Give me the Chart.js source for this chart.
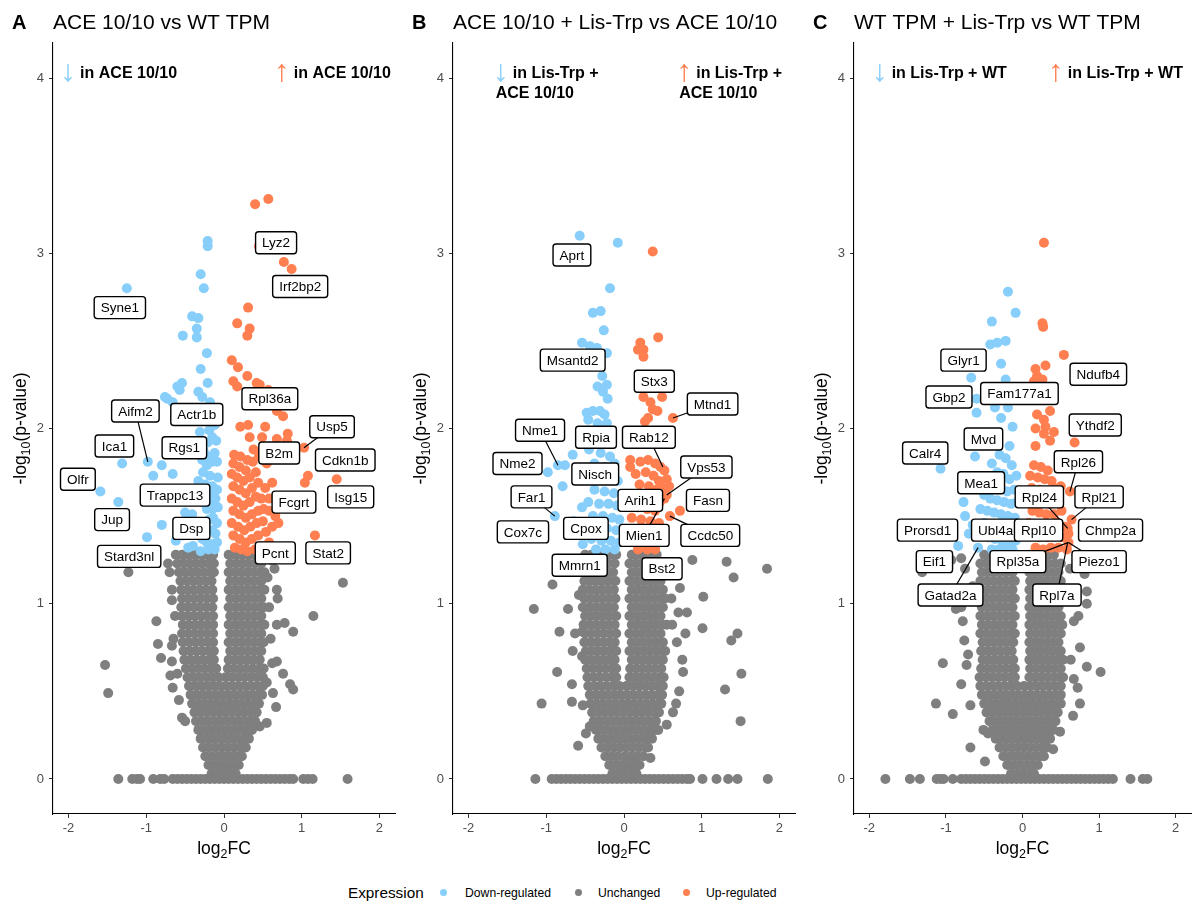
<!DOCTYPE html>
<html>
<head>
<meta charset="utf-8">
<title>Volcano plots</title>
<script src="https://cdn.jsdelivr.net/npm/chart.js@4.4.0/dist/chart.umd.min.js"></script>
<style>
  body { margin: 0; background: #fff; width: 1195px; height: 904px; overflow: hidden; position: relative;
         font-family: "Liberation Sans", Arial, sans-serif; }
  .panel { position: absolute; top: 0; height: 872px; }
  .leg { position: absolute; top: 883px; line-height: 20px; white-space: nowrap; color: #000; }
  .dot { position: absolute; top: 889px; width: 7px; height: 7px; border-radius: 50%; }
</style>
</head>
<body>
<div class="panel" style="left:0;width:400px"><canvas id="chartA"></canvas></div>
<div class="panel" style="left:400px;width:400px"><canvas id="chartB"></canvas></div>
<div class="panel" style="left:801px;width:395px"><canvas id="chartC"></canvas></div>

<span class="leg" style="left:348px;font-size:15.3px">Expression</span>
<div class="dot" style="left:440px;background:#87CEFA"></div>
<span class="leg" style="left:465px;font-size:12.2px">Down-regulated</span>
<div class="dot" style="left:575px;background:#7F7F7F"></div>
<span class="leg" style="left:598px;font-size:12.2px">Unchanged</span>
<div class="dot" style="left:683px;background:#FF7F50"></div>
<span class="leg" style="left:706px;font-size:12.2px">Up-regulated</span>

<script>
const COL_DOWN = "#87CEFA";
const COL_GREY = "#7F7F7F";
const COL_UP = "#FF7F50";
const FONT = '"Liberation Sans", Arial, sans-serif';

const xTicks = [-2, -1, 0, 1, 2];
const yTicks = [0, 1, 2, 3, 4];

// ---------- panel A : ACE 10/10 vs WT TPM ----------
const downA = [[-1.25,2.80],[-0.21,3.07],[-0.21,3.04],[-0.30,2.88],[-0.26,2.80],[-0.41,2.64],[-0.33,2.63],[-0.53,2.53],
  [-0.35,2.57],[-0.35,2.52],[-0.22,2.43],[-0.30,2.34],[-0.21,2.26],[-0.54,2.26],[-0.60,2.24],[-0.76,2.18],[-0.66,2.15],
  [-0.73,2.17],[-0.57,2.22],[-0.33,2.21],[-0.28,2.18],[-0.18,2.15],[-0.22,2.11],[-0.15,2.07],[-0.31,1.98],[-0.15,1.95],
  [-0.21,1.92],[-0.40,1.90],[-0.98,1.81],[-1.31,1.80],[-0.80,1.79],[-0.91,1.73],[-0.66,1.74],[-0.28,1.82],[-0.22,1.79],
  [-0.15,1.81],[-0.09,1.81],[-0.27,1.75],[-0.18,1.73],[-0.15,1.67],[-0.09,1.65],[-0.15,1.59],[-0.22,1.54],[-0.15,1.54],
  [-0.50,1.52],[-0.41,1.51],[-0.14,1.49],[-0.09,1.46],[-0.15,1.42],[-0.80,1.45],[-0.99,1.38],[-1.59,1.64],[-1.36,1.58],
  [-0.28,1.37],[-0.22,1.35],[-0.15,1.34],[-0.09,1.35],[-0.40,1.33],[-0.46,1.32],[-0.25,2.05],[-0.12,2.02],[-0.19,1.99],
  [-0.10,1.93],[-0.26,1.87],[-0.12,1.86],[-0.20,1.84],[-0.33,1.70],[-0.24,1.68],[-0.08,1.72],[-0.20,1.63],[-0.11,1.60],
  [-0.27,1.58],[-0.08,1.55],[-0.19,1.48],[-0.25,1.45],[-0.35,1.41],[-0.11,1.40],[-0.30,1.30],[-0.20,1.31],[-0.12,1.31],
  [-0.55,1.40],[-0.62,1.36],[-0.53,1.39]];
const upA = [[0.40,3.28],[0.57,3.31],[0.45,3.04],[0.77,2.95],[0.87,2.91],[0.31,2.69],[0.17,2.60],[0.33,2.57],[0.30,2.53],
  [0.10,2.39],[0.18,2.35],[0.30,2.30],[0.12,2.27],[0.17,2.24],[0.42,2.26],[0.46,2.25],[0.57,2.22],[0.63,2.18],[0.76,2.07],
  [0.68,2.10],[0.82,1.97],[0.21,2.01],[0.31,2.02],[0.53,2.01],[0.33,1.95],[0.49,1.95],[0.68,1.94],[0.81,1.93],[0.13,1.85],
  [0.21,1.84],[0.30,1.82],[0.37,1.81],[1.03,1.89],[1.08,1.73],[1.04,1.69],[1.45,1.71],[1.17,1.39],[0.62,1.69],[0.53,1.66],
  [0.48,1.60],[0.58,1.60],[0.51,1.54],[0.58,1.53],[0.12,1.80],[0.20,1.78],[0.28,1.76],[0.10,1.74],[0.17,1.72],[0.25,1.70],
  [0.33,1.72],[0.41,1.75],[0.12,1.67],[0.20,1.65],[0.28,1.63],[0.36,1.66],[0.44,1.69],[0.10,1.60],[0.17,1.58],[0.25,1.56],
  [0.33,1.58],[0.41,1.61],[0.12,1.53],[0.20,1.51],[0.28,1.49],[0.36,1.51],[0.44,1.53],[0.10,1.46],[0.18,1.44],[0.26,1.42],
  [0.34,1.44],[0.42,1.46],[0.50,1.47],[0.12,1.39],[0.20,1.37],[0.28,1.35],[0.36,1.37],[0.44,1.39],[0.54,1.41],[0.62,1.44],
  [0.66,1.50],[0.70,1.46],[0.73,1.55],[0.68,1.60],[0.14,1.32],[0.22,1.31],[0.30,1.30],[0.40,1.31],[0.48,1.33],[0.58,1.35],
  [0.38,1.88],[0.45,1.84],[0.55,1.80]];
const greyA = [[-1.23,1.18],[1.53,1.12],[1.15,0.93],[-1.53,0.65],[-1.49,0.49],[-0.87,0.90],[-0.85,0.77],[-0.81,0.69],
  [-0.67,0.67],[-0.69,0.59],[-0.66,0.52],[-0.54,0.35],[-0.50,0.33],[0.89,0.84],[0.78,0.89],[0.68,0.88],[0.76,0.60],
  [0.85,0.54],[0.89,0.51],[0.67,0.41],[0.63,0.49],[0.55,0.32],[0.46,0.30],[0.68,0.67],[0.62,0.66],[0.69,1.03],[0.68,1.08],
  [-0.67,1.08],[-0.67,1.02],[-0.63,0.93],[-0.65,0.80],[-0.67,0.76],[-0.70,1.18],[-0.72,1.23],[0.60,1.25],[0.65,1.20],
  [0.56,1.15],[0.58,0.98],[0.60,0.80],[-0.60,0.60],[-0.58,0.45],[0.55,0.55]];
const zeroA = [-1.36,-1.18,-1.12,-1.08,-0.91,-0.82,-0.77,-0.66,-0.6,-0.54,-0.48,-0.42,-0.36,-0.3,-0.24,-0.18,-0.12,-0.06,0,
  0.06,0.12,0.18,0.24,0.3,0.36,0.42,0.48,0.54,0.6,0.66,0.72,0.78,0.84,0.89,1.02,1.08,1.14,1.59];
// dense core of unchanged genes, one row per -log10(p) level: [y, x, x, ...]
const coreA = [
  [0.03,-0.16,-0.08,0,0.08,0.15],
  [0.08,-0.2,-0.12,-0.04,0.04,0.12,0.19],
  [0.13,-0.24,-0.16,-0.08,0,0.08,0.16,0.23],
  [0.18,-0.27,-0.19,-0.11,-0.03,0.05,0.13,0.21,0.28],
  [0.23,-0.3,-0.22,-0.14,-0.06,0.02,0.1,0.18,0.26,0.32],
  [0.28,-0.33,-0.25,-0.17,-0.09,-0.01,0.07,0.15,0.23,0.31,0.36],
  [0.33,-0.36,-0.28,-0.2,-0.12,-0.04,0.04,0.12,0.2,0.28,0.36,0.4],
  [0.38,-0.38,-0.3,-0.22,-0.14,-0.06,0.02,0.1,0.18,0.26,0.34,0.42],
  [0.43,-0.41,-0.33,-0.25,-0.17,-0.09,-0.01,0.07,0.15,0.23,0.31,0.39,0.45],
  [0.48,-0.43,-0.35,-0.27,-0.19,-0.11,-0.03,0.05,0.13,0.21,0.29,0.37,0.45,0.49],
  [0.53,-0.45,-0.37,-0.29,-0.21,-0.13,-0.05,0.03,0.11,0.19,0.27,0.35,0.43,0.5],
  [0.58,-0.47,-0.39,-0.31,-0.23,-0.15,-0.07,0.02,0.1,0.18,0.26,0.34,0.42,0.5],
  [0.63,-0.49,-0.41,-0.33,-0.25,-0.17,-0.1,0.05,0.13,0.21,0.29,0.37,0.45,0.51],
  [0.68,-0.51,-0.43,-0.35,-0.27,-0.19,-0.13,0.06,0.14,0.22,0.3,0.38,0.46],
  [0.73,-0.52,-0.44,-0.36,-0.28,-0.2,-0.13,0.08,0.16,0.24,0.32,0.4,0.48],
  [0.78,-0.53,-0.45,-0.37,-0.29,-0.21,-0.14,0.06,0.14,0.22,0.3,0.38,0.46,0.51],
  [0.83,-0.54,-0.46,-0.38,-0.3,-0.22,-0.14,0.08,0.16,0.24,0.32,0.4,0.48],
  [0.88,-0.53,-0.45,-0.37,-0.29,-0.21,-0.14,0.06,0.14,0.22,0.3,0.38,0.46,0.52],
  [0.93,-0.54,-0.46,-0.38,-0.3,-0.22,-0.14,0.08,0.16,0.24,0.32,0.4,0.48],
  [0.98,-0.55,-0.47,-0.39,-0.31,-0.23,-0.15,0.06,0.14,0.22,0.3,0.38,0.46,0.51],
  [1.03,-0.54,-0.46,-0.38,-0.3,-0.22,-0.14,0.08,0.16,0.24,0.32,0.4,0.48],
  [1.08,-0.55,-0.47,-0.39,-0.31,-0.23,-0.15,0.06,0.14,0.22,0.3,0.38,0.46,0.52],
  [1.13,-0.56,-0.48,-0.4,-0.32,-0.24,-0.16,0.08,0.16,0.24,0.32,0.4,0.48],
  [1.18,-0.58,-0.5,-0.42,-0.34,-0.26,-0.18,-0.13,0.06,0.14,0.22,0.3,0.38,0.46,0.52],
  [1.23,-0.6,-0.52,-0.44,-0.36,-0.28,-0.2,-0.13,0.08,0.16,0.24,0.32,0.4,0.48],
  [1.28,-0.62,-0.54,-0.46,-0.38,-0.3,-0.22,-0.14,0.06,0.14,0.22,0.3,0.38,0.46]];
// [gene, label x, label y, (point x, point y) when a segment is drawn]
const labelsA = [["Lyz2",0.67,3.06],["Irf2bp2",0.98,2.81],["Syne1",-1.34,2.69],["Aifm2",-1.14,2.10,-0.98,1.81],
  ["Actr1b",-0.35,2.08],["Rpl36a",0.59,2.17],["Usp5",1.39,2.01,1.03,1.89],["Ica1",-1.41,1.90],["Rgs1",-0.51,1.89],
  ["B2m",0.71,1.86],["Cdkn1b",1.56,1.82],["Olfr",-1.88,1.71],["Trappc13",-0.63,1.62],["Fcgrt",0.90,1.58],
  ["Isg15",1.63,1.61],["Jup",-1.44,1.48],["Dsp",-0.42,1.43],["Stard3nl",-1.22,1.27],["Pcnt",0.66,1.29],["Stat2",1.34,1.29]];
const notesA = [[-2.07,4.0,"\u2193",["in ACE 10/10"]],[0.68,4.0,"\u2191",["in ACE 10/10"]]];

// ---------- panel B : ACE 10/10 + Lis-Trp vs ACE 10/10 ----------
const downB = [[-0.57,3.10],[-0.08,3.06],[-0.18,2.80],[-0.40,2.66],[-0.30,2.67],[-0.26,2.56],[-0.54,2.49],[-0.44,2.47],
  [-0.35,2.46],[-0.22,2.43],[-0.28,2.30],[-0.22,2.25],[-0.34,2.24],[-0.27,2.21],[-0.21,2.17],[-0.48,2.09],[-0.40,2.10],
  [-0.31,2.10],[-0.25,2.08],[-0.46,2.05],[-0.34,2.03],[-0.22,2.03],[-0.66,1.85],[-0.76,1.79],[-0.85,1.79],[-0.98,1.75],
  [-0.79,1.67],[-0.89,1.50],[-0.53,1.34],[-0.54,1.55],[-0.45,1.88],[-0.30,1.86],[-0.18,1.84],[-0.38,1.80],[-0.24,1.78],
  [-0.12,1.80],[-0.44,1.73],[-0.31,1.71],[-0.18,1.72],[-0.08,1.70],[-0.38,1.65],[-0.25,1.64],[-0.13,1.63],[-0.46,1.58],
  [-0.32,1.57],[-0.20,1.57],[-0.09,1.56],[-0.40,1.50],[-0.27,1.50],[-0.15,1.49],[-0.06,1.48],[-0.47,1.44],[-0.34,1.43],
  [-0.22,1.43],[-0.10,1.42],[-0.42,1.37],[-0.29,1.36],[-0.17,1.36],[-0.06,1.35],[-0.36,1.31],[-0.24,1.31],[-0.12,1.31],
  [-0.60,1.40],[-0.65,1.47]];
const upB = [[0.37,3.01],[0.44,2.52],[0.21,2.49],[0.25,2.45],[0.18,2.45],[0.25,2.41],[0.25,2.18],[0.34,2.15],[0.49,2.18],
  [0.37,2.11],[0.43,2.10],[0.31,2.06],[0.27,2.04],[0.63,2.06],[0.08,1.82],[0.21,1.81],[0.31,1.82],[0.08,1.78],[0.55,1.62],
  [0.52,1.60],[0.72,1.53],[0.59,1.50],[0.40,1.80],[0.47,1.78],[0.52,1.76],[0.15,1.74],[0.28,1.75],[0.38,1.73],[0.45,1.70],
  [0.55,1.71],[0.20,1.68],[0.32,1.67],[0.42,1.65],[0.50,1.66],[0.58,1.67],[0.12,1.62],[0.25,1.61],[0.36,1.60],[0.46,1.58],
  [0.18,1.55],[0.30,1.54],[0.40,1.53],[0.10,1.49],[0.22,1.48],[0.34,1.47],[0.45,1.46],[0.15,1.42],[0.28,1.41],[0.40,1.40],
  [0.50,1.42],[0.10,1.36],[0.22,1.35],[0.34,1.34],[0.45,1.35],[0.18,1.31],[0.30,1.31],[0.40,1.31]];
const greyB = [[-0.92,1.11],[-1.16,0.97],[-0.72,0.97],[-0.83,0.84],[-0.63,0.83],[-0.54,0.84],[-0.66,0.73],[-0.54,0.70],
  [-0.86,0.61],[-0.67,0.54],[-1.06,0.43],[-0.67,0.44],[-0.53,0.42],[-0.49,0.26],[-0.59,0.19],[0.88,1.25],[1.32,1.24],
  [1.41,1.15],[1.84,1.20],[1.02,1.04],[0.72,1.09],[0.61,1.03],[0.70,0.95],[0.81,0.95],[1.01,0.86],[1.46,0.83],[1.38,0.79],
  [0.79,0.83],[0.68,0.78],[0.75,0.68],[0.76,0.61],[1.51,0.60],[1.30,0.51],[0.71,0.50],[0.67,0.43],[0.63,0.38],[1.50,0.33],
  [0.55,0.31],[0.34,0.12],[-0.60,1.20],[-0.58,1.05],[0.60,1.18],[0.62,0.88],[-0.44,0.30],[0.44,0.28]];
const zeroB = [-1.14,-0.93,-0.87,-0.81,-0.75,-0.69,-0.63,-0.57,-0.51,-0.45,-0.39,-0.33,-0.27,-0.21,-0.15,-0.09,-0.03,0.03,
  0.09,0.15,0.21,0.27,0.33,0.39,0.45,0.51,0.57,0.63,0.69,0.75,0.81,0.85,1.01,1.19,1.34,1.46,1.85];
const coreB = [
  [0.03,-0.15,-0.07,0.01,0.09,0.16],
  [0.08,-0.19,-0.11,-0.03,0.05,0.13,0.2],
  [0.13,-0.24,-0.16,-0.08,0.01,0.09,0.17,0.25],
  [0.18,-0.29,-0.21,-0.13,-0.05,0.03,0.11,0.19,0.27,0.31],
  [0.23,-0.33,-0.25,-0.17,-0.09,-0.01,0.07,0.15,0.23,0.31,0.36],
  [0.28,-0.36,-0.28,-0.2,-0.12,-0.04,0.04,0.12,0.2,0.28,0.36,0.4],
  [0.33,-0.39,-0.31,-0.23,-0.15,-0.07,0.01,0.09,0.17,0.25,0.33,0.41],
  [0.38,-0.41,-0.33,-0.25,-0.17,-0.09,-0.01,0.07,0.15,0.23,0.31,0.39,0.45],
  [0.43,-0.43,-0.35,-0.27,-0.19,-0.11,-0.03,0.05,0.13,0.21,0.29,0.37,0.45,0.48],
  [0.48,-0.44,-0.36,-0.28,-0.2,-0.12,-0.04,0.04,0.12,0.2,0.28,0.36,0.44,0.49],
  [0.53,-0.46,-0.38,-0.3,-0.22,-0.14,-0.06,0.03,0.11,0.19,0.27,0.35,0.43,0.5],
  [0.58,-0.47,-0.39,-0.31,-0.23,-0.15,-0.1,0.07,0.14,0.22,0.3,0.38,0.46,0.51],
  [0.63,-0.48,-0.4,-0.32,-0.24,-0.16,-0.1,0.08,0.16,0.24,0.32,0.4,0.48],
  [0.68,-0.5,-0.43,-0.35,-0.27,-0.19,-0.12,0.1,0.18,0.26,0.34,0.42,0.5],
  [0.73,-0.49,-0.41,-0.33,-0.25,-0.17,-0.1,0.07,0.15,0.23,0.31,0.39,0.47,0.53],
  [0.78,-0.51,-0.43,-0.35,-0.27,-0.19,-0.12,0.1,0.18,0.26,0.34,0.42,0.5],
  [0.83,-0.5,-0.42,-0.34,-0.26,-0.18,-0.1,0.07,0.15,0.23,0.31,0.39,0.47],
  [0.88,-0.52,-0.44,-0.36,-0.28,-0.2,-0.12,0.1,0.18,0.26,0.34,0.42,0.5,0.55],
  [0.93,-0.5,-0.42,-0.34,-0.26,-0.18,-0.1,0.07,0.15,0.23,0.31,0.39,0.47],
  [0.98,-0.53,-0.45,-0.37,-0.29,-0.21,-0.13,0.1,0.18,0.26,0.34,0.42,0.5],
  [1.03,-0.51,-0.43,-0.35,-0.27,-0.19,-0.11,0.07,0.15,0.23,0.31,0.39,0.47,0.53],
  [1.08,-0.53,-0.45,-0.37,-0.29,-0.21,-0.13,0.1,0.18,0.26,0.34,0.42,0.5],
  [1.13,-0.51,-0.43,-0.35,-0.27,-0.19,-0.11,0.07,0.15,0.23,0.31,0.39,0.47],
  [1.18,-0.54,-0.46,-0.38,-0.3,-0.22,-0.14,0.1,0.18,0.26,0.34,0.42,0.5],
  [1.23,-0.52,-0.44,-0.36,-0.28,-0.2,-0.12,0.07,0.15,0.23,0.31,0.39,0.47],
  [1.28,-0.5,-0.42,-0.34,-0.26,-0.18,-0.1,0.1,0.18,0.26,0.34,0.42]];
const labelsB = [["Aprt",-0.67,2.99],["Msantd2",-0.66,2.39],["Stx3",0.39,2.27],["Mtnd1",1.14,2.14,0.63,2.06],
  ["Nme1",-1.08,1.99,-0.85,1.79],["Rpia",-0.36,1.95],["Rab12",0.32,1.95,0.50,1.78],["Nme2",-1.37,1.80],
  ["Vps53",1.06,1.78,0.55,1.62],["Nisch",-0.37,1.74],["Far1",-1.19,1.61,-0.89,1.50],["Arih1",0.21,1.59],["Fasn",1.08,1.59],
  ["Cox7c",-1.30,1.41],["Cpox",-0.49,1.43],["Mien1",0.26,1.39,0.52,1.60],["Ccdc50",1.11,1.39,0.59,1.50],
  ["Mmrn1",-0.57,1.22],["Bst2",0.49,1.20]];
const notesB = [[-1.65,4.0,"\u2193",["in Lis-Trp +","ACE 10/10"]],[0.71,4.0,"\u2191",["in Lis-Trp +","ACE 10/10"]]];

// ---------- panel C : WT TPM + Lis-Trp vs WT TPM ----------
const downC = [[-0.19,2.78],[-0.09,2.66],[-0.40,2.61],[-0.42,2.48],[-0.33,2.49],[-0.22,2.50],[-0.28,2.37],[-0.67,2.29],
  [-0.22,2.28],[-0.60,2.17],[-0.36,2.12],[-0.19,2.12],[-0.60,2.09],[-0.28,2.06],[-0.13,2.01],[-0.17,1.90],[-0.62,1.84],
  [-1.07,1.77],[-0.77,1.58],[-0.75,1.50],[-0.84,1.33],[-0.58,1.32],[-0.30,1.85],[-0.22,1.83],[-0.40,1.80],[-0.14,1.79],
  [-0.33,1.75],[-0.25,1.74],[-0.45,1.72],[-0.17,1.71],[-0.08,1.73],[-0.38,1.67],[-0.28,1.66],[-0.20,1.64],[-0.11,1.65],
  [-0.50,1.62],[-0.42,1.60],[-0.33,1.59],[-0.24,1.58],[-0.15,1.57],[-0.07,1.58],[-0.55,1.54],[-0.46,1.53],[-0.37,1.52],
  [-0.28,1.51],[-0.19,1.50],[-0.10,1.49],[-0.50,1.46],[-0.41,1.45],[-0.32,1.44],[-0.23,1.43],[-0.14,1.42],[-0.06,1.43],
  [-0.45,1.38],[-0.36,1.37],[-0.27,1.36],[-0.18,1.35],[-0.09,1.36],[-0.40,1.31],[-0.31,1.31],[-0.22,1.31],[-0.13,1.31],
  [-0.65,1.45],[-0.70,1.40]];
const upC = [[0.28,3.06],[0.26,2.60],[0.27,2.58],[0.54,2.42],[0.17,2.34],[0.30,2.36],[0.19,2.30],[0.15,2.27],[0.26,2.28],
  [0.19,2.08],[0.36,2.10],[0.28,2.05],[0.17,2.00],[0.30,2.01],[0.41,1.98],[0.28,1.97],[0.36,1.93],[0.17,1.90],[0.68,1.92],
  [0.62,1.64],[0.64,1.48],[0.15,1.79],[0.24,1.78],[0.33,1.76],[0.10,1.73],[0.20,1.72],[0.29,1.71],[0.38,1.70],[0.12,1.66],
  [0.22,1.65],[0.31,1.64],[0.41,1.66],[0.50,1.67],[0.08,1.60],[0.17,1.59],[0.26,1.58],[0.36,1.57],[0.46,1.59],[0.13,1.53],
  [0.22,1.52],[0.31,1.51],[0.41,1.51],[0.51,1.53],[0.08,1.46],[0.17,1.45],[0.27,1.44],[0.36,1.45],[0.46,1.46],[0.55,1.44],
  [0.59,1.43],[0.12,1.39],[0.22,1.38],[0.32,1.38],[0.42,1.39],[0.52,1.38],[0.60,1.40],[0.60,1.35],[0.17,1.32],[0.27,1.31],
  [0.37,1.32],[0.47,1.32],[0.58,1.31]];
const greyC = [[-1.04,0.66],[-1.13,0.43],[-0.91,0.37],[-0.80,0.54],[-0.68,0.42],[-0.68,0.18],[-0.49,0.10],[-0.51,0.28],
  [-0.45,0.26],[-0.76,0.79],[-0.71,0.71],[-0.73,0.65],[-0.78,0.90],[-0.80,0.98],[-0.87,0.97],[-1.31,1.18],[1.02,0.61],
  [0.84,0.64],[0.75,0.75],[0.63,0.68],[0.84,1.00],[0.84,1.07],[0.67,0.90],[0.73,0.93],[0.75,0.43],[0.66,0.36],[0.72,0.52],
  [0.67,0.57],[0.49,0.27],[0.40,0.17],[0.81,1.17],[-0.93,1.25],[-0.80,1.26],[-0.75,1.20],[-0.65,1.10],[0.62,1.20],[0.65,1.05]];
const zeroC = [-1.79,-1.47,-1.34,-1.12,-1.07,-1.03,-0.91,-0.80,-0.74,-0.68,-0.62,-0.56,-0.50,-0.44,-0.38,-0.32,-0.26,-0.20,
  -0.14,-0.08,-0.02,0.04,0.10,0.16,0.22,0.28,0.34,0.40,0.46,0.52,0.58,0.64,0.70,0.76,0.82,0.88,0.94,1.00,1.06,1.12,1.18,
  1.41,1.57,1.63];
const coreC = [
  [0.03,-0.15,-0.07,0.01,0.09,0.15],
  [0.08,-0.2,-0.12,-0.04,0.04,0.12,0.2],
  [0.13,-0.25,-0.17,-0.09,-0.01,0.07,0.15,0.23,0.28],
  [0.18,-0.3,-0.22,-0.14,-0.06,0.02,0.1,0.18,0.26,0.32],
  [0.23,-0.35,-0.27,-0.19,-0.11,-0.03,0.05,0.13,0.21,0.29,0.36],
  [0.28,-0.39,-0.31,-0.23,-0.15,-0.07,0.01,0.09,0.17,0.25,0.33,0.4],
  [0.33,-0.43,-0.35,-0.27,-0.19,-0.11,-0.03,0.05,0.13,0.21,0.29,0.37,0.43],
  [0.38,-0.47,-0.39,-0.31,-0.23,-0.15,-0.07,0.01,0.09,0.17,0.25,0.33,0.41,0.46],
  [0.43,-0.5,-0.42,-0.34,-0.26,-0.18,-0.1,-0.02,0.06,0.14,0.22,0.3,0.38,0.46,0.5],
  [0.48,-0.53,-0.45,-0.37,-0.29,-0.21,-0.13,-0.05,0.03,0.11,0.19,0.27,0.35,0.43,0.5],
  [0.53,-0.55,-0.47,-0.39,-0.31,-0.23,-0.15,-0.07,0.02,0.1,0.18,0.26,0.34,0.42,0.5],
  [0.58,-0.56,-0.48,-0.4,-0.32,-0.24,-0.16,-0.1,0.09,0.16,0.24,0.32,0.4,0.48,0.53],
  [0.63,-0.54,-0.46,-0.38,-0.3,-0.22,-0.14,-0.1,0.1,0.18,0.26,0.34,0.42,0.5],
  [0.68,-0.52,-0.44,-0.36,-0.28,-0.2,-0.12,0.09,0.15,0.23,0.31,0.39,0.47,0.53],
  [0.73,-0.54,-0.46,-0.38,-0.3,-0.22,-0.14,0.1,0.18,0.26,0.34,0.42,0.5],
  [0.78,-0.52,-0.44,-0.36,-0.28,-0.2,-0.12,0.09,0.15,0.23,0.31,0.39,0.47],
  [0.83,-0.55,-0.47,-0.39,-0.31,-0.23,-0.15,-0.1,0.1,0.18,0.26,0.34,0.42,0.5],
  [0.88,-0.53,-0.45,-0.37,-0.29,-0.21,-0.13,0.09,0.15,0.23,0.31,0.39,0.47,0.52],
  [0.93,-0.55,-0.47,-0.39,-0.31,-0.23,-0.15,-0.1,0.1,0.18,0.26,0.34,0.42,0.5],
  [0.98,-0.53,-0.45,-0.37,-0.29,-0.21,-0.13,0.09,0.15,0.23,0.31,0.39,0.47],
  [1.03,-0.55,-0.47,-0.39,-0.31,-0.23,-0.15,-0.1,0.1,0.18,0.26,0.34,0.42,0.5],
  [1.08,-0.53,-0.45,-0.37,-0.29,-0.21,-0.13,0.09,0.15,0.23,0.31,0.39,0.47,0.52],
  [1.13,-0.55,-0.47,-0.39,-0.31,-0.23,-0.15,-0.1,0.1,0.18,0.26,0.34,0.42,0.5],
  [1.18,-0.53,-0.45,-0.37,-0.29,-0.21,-0.13,0.09,0.15,0.23,0.31,0.39,0.47],
  [1.23,-0.55,-0.47,-0.39,-0.31,-0.23,-0.15,-0.1,0.1,0.18,0.26,0.34,0.42,0.5],
  [1.28,-0.5,-0.42,-0.34,-0.26,-0.18,-0.11,0.09,0.17,0.25,0.33,0.41]];
const labelsC = [["Glyr1",-0.77,2.39],["Ndufb4",0.99,2.31],["Gbp2",-0.96,2.18],["Fam177a1",-0.04,2.20],["Ythdf2",0.95,2.02],
  ["Mvd",-0.51,1.94],["Calr4",-1.27,1.86],["Rpl26",0.73,1.81,0.62,1.64],["Mea1",-0.54,1.69],["Rpl24",0.22,1.61,0.59,1.43],
  ["Rpl21",1.00,1.61,0.64,1.48],["Prorsd1",-1.24,1.42],["Ubl4a",-0.35,1.42],["Rpl10",0.21,1.42],["Chmp2a",1.15,1.42],
  ["Eif1",-1.15,1.24],["Rpl35a",-0.06,1.24,0.60,1.35],["Piezo1",1.00,1.24,0.60,1.35],["Gatad2a",-0.94,1.05,-0.58,1.32],
  ["Rpl7a",0.45,1.05,0.59,1.35]];
const notesC = [[-1.93,4.0,"\u2193",["in Lis-Trp + WT"]],[0.37,4.0,"\u2191",["in Lis-Trp + WT"]]];

Chart.defaults.font.family = FONT;

function toPt(p) {
  return { x: p[0], y: p[1] };
}

function roundBox(ctx, x, y, w, h, r) {
  ctx.beginPath();
  ctx.moveTo(x + r, y);
  ctx.arcTo(x + w, y, x + w, y + h, r);
  ctx.arcTo(x + w, y + h, x, y + h, r);
  ctx.arcTo(x, y + h, x, y, r);
  ctx.arcTo(x, y, x + w, y, r);
  ctx.closePath();
}

// arrow glyph stretched into a thin tall box (left, top, width, height)
function drawArrow(ctx, glyph, color, left, top, w, h) {
  ctx.save();
  ctx.font = "40px " + FONT;
  const m = ctx.measureText(glyph);
  const gw = m.actualBoundingBoxLeft + m.actualBoundingBoxRight;
  const gh = m.actualBoundingBoxAscent + m.actualBoundingBoxDescent;
  ctx.translate(left, top);
  ctx.scale(w / gw, h / gh);
  ctx.fillStyle = color;
  ctx.textAlign = "left";
  ctx.textBaseline = "alphabetic";
  ctx.fillText(glyph, m.actualBoundingBoxLeft, m.actualBoundingBoxAscent);
  ctx.restore();
}

// titles, axis titles with subscripts, arrow notes and repelled labels
function textLayer(letter, title, labels, notes) {
  return {
    id: "textLayer",
    afterDraw(chart) {
      const ctx = chart.ctx;
      const xs = chart.scales.x, ys = chart.scales.y, area = chart.chartArea;
      ctx.save();
      ctx.textAlign = "left";
      ctx.textBaseline = "alphabetic";
      ctx.fillStyle = "#000";
      ctx.font = "bold 20px " + FONT;
      ctx.fillText(letter, area.left - 41, 29);
      ctx.font = "21px " + FONT;
      ctx.fillText(title, area.left, 29);

      // x axis title: log2FC
      const big = "17.5px " + FONT, small = "12.5px " + FONT;
      ctx.font = big;
      let w1 = ctx.measureText("log").width, w3 = ctx.measureText("FC").width;
      ctx.font = small;
      let w2 = ctx.measureText("2").width;
      let x0 = (area.left + area.right) / 2 - (w1 + w2 + w3) / 2, by = area.bottom + 40;
      ctx.font = big; ctx.fillText("log", x0, by);
      ctx.font = small; ctx.fillText("2", x0 + w1, by + 4);
      ctx.font = big; ctx.fillText("FC", x0 + w1 + w2, by);

      // y axis title: -log10(p-value)
      ctx.save();
      ctx.translate(area.left - 27, (area.top + area.bottom) / 2);
      ctx.rotate(-Math.PI / 2);
      ctx.font = big;
      w1 = ctx.measureText("-log").width; w3 = ctx.measureText("(p-value)").width;
      ctx.font = small;
      w2 = ctx.measureText("10").width;
      x0 = -(w1 + w2 + w3) / 2;
      ctx.font = big; ctx.fillText("-log", x0, 0);
      ctx.font = small; ctx.fillText("10", x0 + w1, 4);
      ctx.font = big; ctx.fillText("(p-value)", x0 + w1 + w2, 0);
      ctx.restore();

      // direction notes
      notes.forEach(function (n) {
        const px = xs.getPixelForValue(n[0]), py = ys.getPixelForValue(n[1]);
        drawArrow(ctx, n[2], n[2] === "\u2193" ? COL_DOWN : COL_UP, px + 1, py - 15, 8, 19);
        ctx.font = "bold 16px " + FONT;
        ctx.fillStyle = "#000";
        n[3].forEach(function (t, i) {
          ctx.fillText(t, i === 0 ? px + 17 : px, py + i * 20);
        });
      });

      // label segments, then boxes on top
      ctx.strokeStyle = "#000";
      ctx.lineWidth = 1.2;
      labels.forEach(function (l) {
        if (l.length > 3) {
          ctx.beginPath();
          ctx.moveTo(xs.getPixelForValue(l[3]), ys.getPixelForValue(l[4]));
          ctx.lineTo(xs.getPixelForValue(l[1]), ys.getPixelForValue(l[2]));
          ctx.stroke();
        }
      });
      ctx.font = "13.5px " + FONT;
      ctx.textAlign = "center";
      ctx.textBaseline = "middle";
      labels.forEach(function (l) {
        const cx = xs.getPixelForValue(l[1]), cy = ys.getPixelForValue(l[2]);
        const w = ctx.measureText(l[0]).width + 13, h = 22;
        roundBox(ctx, cx - w / 2, cy - h / 2, w, h, 3);
        ctx.fillStyle = "#fff";
        ctx.fill();
        ctx.lineWidth = 1.4;
        ctx.stroke();
        ctx.fillStyle = "#000";
        ctx.fillText(l[0], cx, cy + 1);
      });
      ctx.restore();
    }
  };
}

function volcano(id, letter, title, down, up, grey, zero, core, labels, notes, padRight) {
  const greyPts = grey.map(toPt);
  zero.forEach(function (x) { greyPts.push({ x: x, y: 0 }); });
  core.forEach(function (row) {
    row.slice(1).forEach(function (x) { greyPts.push({ x: x, y: row[0] }); });
  });
  const cv = document.getElementById(id);
  cv.width = cv.parentNode.clientWidth;
  cv.height = 872;
  return new Chart(cv, {
    type: "scatter",
    data: {
      datasets: [
        { label: "Up-regulated", data: up.map(toPt), backgroundColor: COL_UP, order: 1 },
        { label: "Down-regulated", data: down.map(toPt), backgroundColor: COL_DOWN, order: 2 },
        { label: "Unchanged", data: greyPts, backgroundColor: COL_GREY, order: 3 }
      ]
    },
    options: {
      responsive: false,
      animation: false,
      events: [],
      layout: { padding: { top: 43, right: padRight, bottom: 0, left: 0 } },
      elements: { point: { radius: 5, borderWidth: 0, hoverRadius: 5 } },
      plugins: { legend: { display: false }, tooltip: { enabled: false }, title: { display: false } },
      scales: {
        x: {
          type: "linear", min: -2.2, max: 2.2,
          afterBuildTicks: function (s) { s.ticks = xTicks.map(function (v) { return { value: v }; }); },
          afterFit: function (s) { s.height = 58; },
          ticks: { color: "#4D4D4D", font: { size: 13 }, padding: 3, maxRotation: 0 },
          grid: { drawOnChartArea: false, tickLength: 4, color: "#333" },
          border: { color: "#000", width: 1.1 }
        },
        y: {
          type: "linear", min: -0.2, max: 4.2,
          afterBuildTicks: function (s) { s.ticks = yTicks.map(function (v) { return { value: v }; }); },
          afterFit: function (s) { s.width = 53; },
          ticks: { color: "#4D4D4D", font: { size: 13 }, padding: 5 },
          grid: { drawOnChartArea: false, tickLength: 4, color: "#333" },
          border: { color: "#000", width: 1.1 }
        }
      }
    },
    plugins: [textLayer(letter, title, labels, notes)]
  });
}

volcano("chartA", "A", "ACE 10/10 vs WT TPM", downA, upA, greyA, zeroA, coreA, labelsA, notesA, 5);
volcano("chartB", "B", "ACE 10/10 + Lis-Trp vs ACE 10/10", downB, upB, greyB, zeroB, coreB, labelsB, notesB, 5);
volcano("chartC", "C", "WT TPM + Lis-Trp vs WT TPM", downC, upC, greyC, zeroC, coreC, labelsC, notesC, 0);
</script>
</body>
</html>
